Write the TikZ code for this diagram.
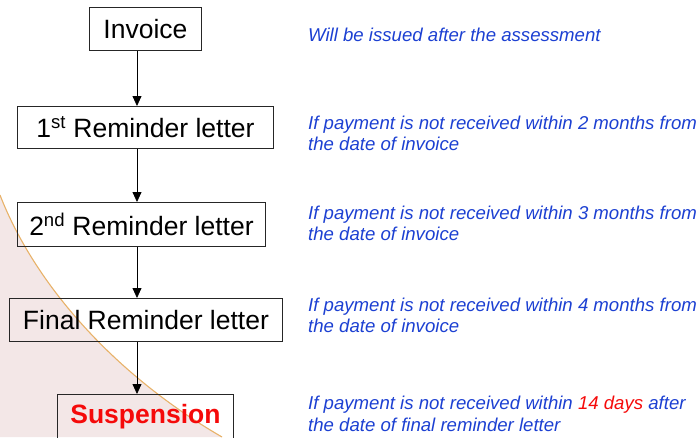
\documentclass[tikz,border=0pt]{standalone}
\usepackage{fontspec}
\setmainfont{Liberation Sans}
\usetikzlibrary{arrows.meta}
\definecolor{txtblue}{RGB}{28,64,210}
\definecolor{txtred}{RGB}{245,10,10}
\definecolor{bgpink}{RGB}{243,231,231}
\definecolor{curveorange}{RGB}{232,178,105}
\tikzset{
  stepbox/.style={draw=black!85, line width=0.9pt, inner sep=0pt, anchor=north west,
    font=\fontsize{26.5}{31}\selectfont, text=black},
  note/.style={anchor=base west, inner sep=0pt, text=txtblue,
    font=\fontsize{18.6}{22}\selectfont\itshape},
  flow/.style={line width=0.8pt, -{Triangle[width=9pt,length=10pt]}}
}
\begin{document}
\begin{tikzpicture}[x=1pt,y=-1pt]
\useasboundingbox (0,0) rectangle (700,437);
% background swoosh
\fill[bgpink] (0,195) .. controls (35,285) and (115,375) .. (222,437) -- (0,437) -- cycle;
\draw[curveorange, line width=1.1pt] (0,195) .. controls (35,285) and (115,375) .. (222,437);
% boxes
\node[stepbox, minimum width=112pt, minimum height=43pt] (inv) at (89,7) {Invoice};
\node[stepbox, minimum width=256pt, minimum height=42pt] (r1) at (17,106) {1\textsuperscript{st} Reminder letter\hspace{6pt}};
\node[stepbox, minimum width=248pt, minimum height=44pt] (r2) at (17,202) {2\textsuperscript{nd} Reminder letter};
\node[stepbox, minimum width=273pt, minimum height=43pt] (rf) at (9,298) {Final Reminder letter};
\node[stepbox, minimum width=176pt, minimum height=44pt, font=\fontsize{26.5}{31}\selectfont\bfseries, text=txtred] (sus) at (57,394) {Suspension};
% arrows
\coordinate (ax) at (137,0);
\draw[flow] (inv.south -| ax) -- (r1.north -| ax);
\draw[flow] (r1.south -| ax) -- (r2.north -| ax);
\draw[flow] (r2.south -| ax) -- (rf.north -| ax);
\draw[flow] (rf.south -| ax) -- (sus.north -| ax);
% notes
\node[note] (n0) at (308,41) {Will be issued after the assessment};
\node[note] (n1a) at (308,129) {If payment is not received within 2 months from};
\node[note] (n1b) at (308,150.5) {the date of invoice};
\node[note] (n2a) at (308,219) {If payment is not received within 3 months from};
\node[note] (n2b) at (308,240.5) {the date of invoice};
\node[note] (n3a) at (308,311) {If payment is not received within 4 months from};
\node[note] (n3b) at (308,332.5) {the date of invoice};
\node[note] (n4a) at (308,409) {If payment is not received within \textcolor{txtred}{14 days} after};
\node[note] (n4b) at (308,431) {the date of final reminder letter};
\end{tikzpicture}
\end{document}
